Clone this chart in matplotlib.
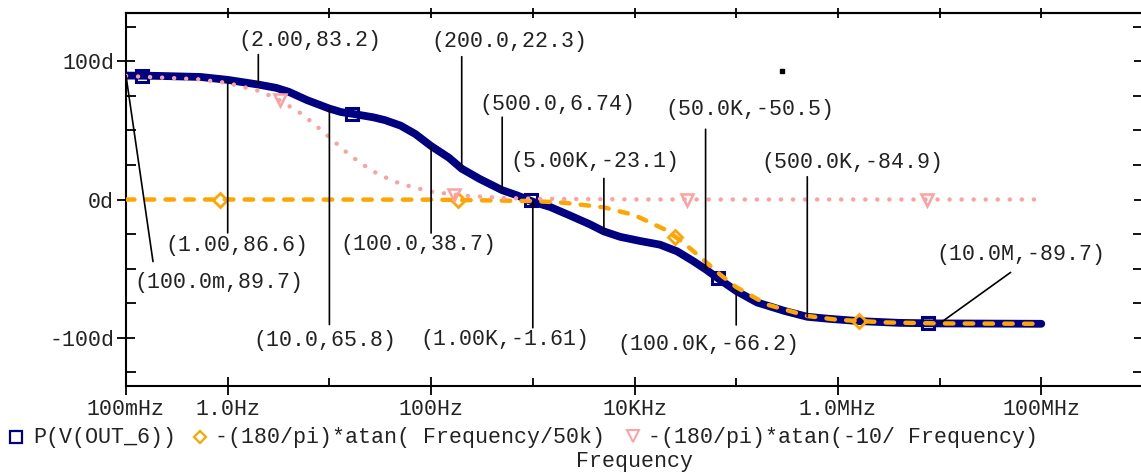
"""
Phase plot of P(V(OUT_6)) against the two atan reference curves,
redrawn in the PSpice probe style.
"""
import matplotlib
matplotlib.use("Agg")
import matplotlib.pyplot as plt
from matplotlib.ticker import FixedLocator, NullLocator, NullFormatter
from matplotlib.lines import Line2D

# ---- data -----------------------------------------------------------------
# P(V(OUT_6)) phase, degrees
mag_f = [0.1, 0.2, 0.54, 1, 2, 3, 4, 6, 10, 13, 17, 27, 35, 50, 70, 100, 150,
         200, 300, 500, 700, 1e3, 1.48e3, 2.32e3, 3.65e3, 5e3, 7.2e3, 11.3e3,
         17.8e3, 26.2e3, 37.6e3, 50e3, 69e3, 100e3, 160e3, 300e3, 500e3,
         800e3, 1.6e6, 4e6, 1e7, 1e8]
mag_deg = [89.7, 89.5, 88.7, 86.6, 83.2, 80.8, 77.9, 72.0, 65.8, 63.3, 62.0,
           59.5, 57.5, 53.5, 47.4, 38.7, 30.2, 22.3, 14.9, 6.74, 3.0, -1.61,
           -5.4, -11.6, -18.0, -23.1, -27.0, -30.0, -32.7, -37.5, -44.5,
           -50.5, -58.0, -66.2, -74.5, -80.7, -84.9, -86.3, -88.0, -89.3,
           -89.7, -89.97]
mag_mark_f = [0.144, 16.7, 960, 66e3, 7.7e6]
mag_mark_deg = [89.7, 62.2, 0.0, -56.8, -89.6]

# -(180/pi)*atan(Frequency/50k)
pole_f = [0.1, 1, 100, 1e3, 2e3, 5e3, 10e3, 20e3, 30e3, 50e3, 70e3, 100e3,
          200e3, 500e3, 1e6, 3e6, 1e7, 1e8]
pole_deg = [0, 0, -0.1, -1.1, -2.3, -5.7, -11.3, -21.8, -31.0, -45.0, -54.5,
            -63.4, -76.0, -84.3, -87.1, -89.0, -89.7, -89.97]
pole_mark_f = [0.84, 184, 25e3, 1.6e6]
pole_mark_deg = [0.0, -0.2, -26.8, -88.2]

# -(180/pi)*atan(-10/Frequency)
zero_f = [0.1, 0.5, 1, 2, 3, 5, 7, 10, 15, 20, 30, 50, 100, 200, 500, 1e3,
          1e4, 1e5, 1e6, 1e7, 1e8]
zero_deg = [89.4, 87.1, 84.3, 78.7, 73.3, 63.4, 55.0, 45.0, 33.7, 26.6, 18.4,
            11.3, 5.7, 2.9, 1.15, 0.57, 0.06, 0, 0, 0, 0]
zero_mark_f = [3.3, 168, 32.8e3, 7.5e6]
zero_mark_deg = [71.7, 3.4, 0.0, 0.0]

# cursor labels on the P(V(OUT_6)) trace
cursor_f = [0.1, 1, 2, 10, 100, 200, 500, 1e3, 5e3, 50e3, 100e3, 500e3, 10e6]
cursor_deg = [89.7, 86.6, 83.2, 65.8, 38.7, 22.3, 6.74, -1.61, -23.1, -50.5,
              -66.2, -84.9, -89.7]
cursor_text = ["(100.0m,89.7)", "(1.00,86.6)", "(2.00,83.2)", "(10.0,65.8)",
               "(100.0,38.7)", "(200.0,22.3)", "(500.0,6.74)", "(1.00K,-1.61)",
               "(5.00K,-23.1)", "(50.0K,-50.5)", "(100.0K,-66.2)",
               "(500.0K,-84.9)", "(10.0M,-89.7)"]

stray_f = [282e3]
stray_deg = [93.0]

xtick_vals = [0.1, 1, 100, 1e4, 1e6, 1e8]
xtick_text = ["100mHz", "1.0Hz", "100Hz", "10KHz", "1.0MHz", "100MHz"]
ytick_vals = [-100, 0, 100]
ytick_text = ["-100d", "0d", "100d"]

# ---- layout (pixel offsets of leader end / label centre from the point) ----
lead_off = [(27, -186), (0, -153), (0, 30), (0, -216), (0, -87), (0, 112),
            (0, 73), (0, -126), (0, 53), (0, 140), (0, -34), (0, 140),
            (71, 51)]
text_off = [(93, -207), (9, -166), (52, 44), (-5, -232), (-13, -98),
            (48, 127), (55, 86), (-28, -138), (-9, 70), (44, 160),
            (-28, -54), (45, 154), (81, 69)]

NAVY, ORANGE, PINK = "#000080", "#ffa500", "#ffa0a0"
INK = "#222222"

plt.rcParams["font.family"] = ["Liberation Mono", "DejaVu Sans Mono"]
plt.rcParams["font.size"] = 15.6

W, H = 1141, 473
fig = plt.figure(figsize=(W / 100, H / 100), dpi=100)
ax = fig.add_axes([126 / W, 1 - 386 / H, 1017 / W, 373 / H])

ax.plot(mag_f, mag_deg, color=NAVY, lw=5.6, solid_capstyle="round",
        solid_joinstyle="round", zorder=3)
ax.plot(mag_mark_f, mag_mark_deg, ls="none", marker="s", ms=8.5, mfc="none",
        mec=NAVY, mew=2.2, zorder=3)
ax.plot(pole_f, pole_deg, color=ORANGE, lw=3.2, ls=(0, (1.9, 2.55)),
        dash_capstyle="round", zorder=4)
ax.plot(pole_mark_f, pole_mark_deg, ls="none", marker="D", ms=7, mfc="none",
        mec=ORANGE, mew=2.0, zorder=4)
ax.plot(zero_f, zero_deg, color=PINK, lw=3.2, ls=(0, (0.01, 2.7)),
        dash_capstyle="round", zorder=5)
ax.plot(zero_mark_f, zero_mark_deg, ls="none", marker="v", ms=9, mfc="none",
        mec=PINK, mew=1.8, zorder=5)
ax.plot(stray_f, stray_deg, ls="none", marker="s", ms=2.2, color="k", zorder=6)

for f, d, s, lo, to in zip(cursor_f, cursor_deg, cursor_text, lead_off, text_off):
    ax.annotate("", xy=(f, d), xytext=lo, textcoords="offset pixels",
                arrowprops=dict(arrowstyle="-", shrinkA=0, shrinkB=0,
                                lw=1.2, color="k"), zorder=7)
    ax.annotate(s, xy=(f, d), xytext=to, textcoords="offset pixels",
                ha="center", va="center", color=INK, zorder=7)

ax.set_xscale("log")
ax.set_xlim(0.1, 1e9)
ax.set_ylim(-135, 135)

ax.xaxis.set_major_locator(FixedLocator(xtick_vals))
ax.set_xticklabels(xtick_text)
ax.xaxis.set_minor_locator(FixedLocator([10, 1e3, 1e5, 1e7]))
ax.xaxis.set_minor_formatter(NullFormatter())
ax.set_yticks(ytick_vals, ytick_text)
ax.yaxis.set_minor_locator(FixedLocator([-125, -75, -50, -25, 25, 50, 75, 125]))

ax.tick_params(axis="both", which="major", direction="inout", length=13,
               width=1.3, color="k", labelcolor=INK)
ax.tick_params(axis="x", which="major", pad=3)
ax.tick_params(axis="y", which="major", pad=2, right=True)
ax.tick_params(axis="x", which="minor", direction="in", length=6, width=1.3)
ax.tick_params(axis="y", which="minor", direction="in", length=7, width=1.3,
               right=True)

top = ax.secondary_xaxis("top")
top.set_xticks([1, 10, 100, 1e3, 1e4, 1e5, 1e6, 1e7, 1e8])
top.xaxis.set_minor_locator(NullLocator())
top.xaxis.set_major_formatter(NullFormatter())
top.tick_params(direction="inout", length=7.5, width=1.3)
top.spines["top"].set_linewidth(1.5)

for sp in ax.spines.values():
    sp.set_linewidth(1.5)

# legend row + axis title
ly = 1 - 437 / H
fig.add_artist(Line2D([16 / W], [ly], marker="s", ms=8, mfc="none", mec=NAVY,
                      mew=1.6, ls="none"))
fig.add_artist(Line2D([200 / W], [ly], marker="D", ms=6.5, mfc="none",
                      mec=ORANGE, mew=1.6, ls="none"))
fig.add_artist(Line2D([633 / W], [ly + 0.002], marker="v", ms=8.5, mfc="none",
                      mec=PINK, mew=1.4, ls="none"))
by = 1 - 443 / H
fig.text(33 / W, by, "P(V(OUT_6))", va="baseline", color=INK)
fig.text(215 / W, by, "-(180/pi)*atan( Frequency/50k)", va="baseline",
         color=INK)
fig.text(648 / W, by, "-(180/pi)*atan(-10/ Frequency)", va="baseline",
         color=INK)
fig.text(634.5 / W, 1 - 467 / H, "Frequency", ha="center", va="baseline",
         color=INK)

fig.savefig("out.png", dpi=100)
